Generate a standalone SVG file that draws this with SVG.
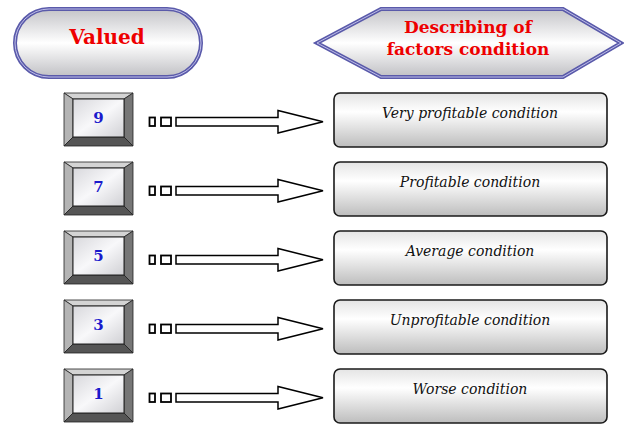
<svg xmlns="http://www.w3.org/2000/svg" width="624" height="425" viewBox="0 0 624 425">
<defs>
<linearGradient id="gPill" x1="0" y1="0" x2="0" y2="1">
<stop offset="0" stop-color="#c4c4c8"/><stop offset="0.5" stop-color="#ffffff"/><stop offset="1" stop-color="#c0c0c4"/>
</linearGradient>
<linearGradient id="gCond" x1="0" y1="0" x2="0" y2="1">
<stop offset="0" stop-color="#e4e4e4"/><stop offset="0.35" stop-color="#ffffff"/><stop offset="1" stop-color="#bdbdbd"/>
</linearGradient>
<linearGradient id="gFace" x1="0" y1="0" x2="1" y2="1">
<stop offset="0" stop-color="#d8d8dc"/><stop offset="0.5" stop-color="#f8f8fa"/><stop offset="1" stop-color="#d0d0d4"/>
</linearGradient>
<style>
.hdr{font-family:'DejaVu Serif',serif;font-weight:bold;fill:#ee0000;text-anchor:middle}
.num{font-family:'DejaVu Serif',serif;font-weight:bold;font-size:15px;fill:#1a1acc;text-anchor:middle}
.cond{font-family:'DejaVu Serif',serif;font-style:italic;font-size:14px;fill:#111;text-anchor:middle}
.condbox{fill:url(#gCond);stroke:#1a1a1a;stroke-width:1.6}
.face{fill:url(#gFace);stroke:#222;stroke-width:1}
.bt{fill:#d4d4d4;stroke:#222;stroke-width:0.8}
.bl{fill:#b4b4b4;stroke:#222;stroke-width:0.8}
.br{fill:#767676;stroke:#222;stroke-width:0.8}
.bb{fill:#555;stroke:#222;stroke-width:0.8}
.arr{fill:#fff;stroke:#000;stroke-width:1.5;stroke-linejoin:miter}
.dash{fill:#fff;stroke:#000;stroke-width:1.8}
.outer{fill:url(#gPill);stroke:#5a5aaa;stroke-width:4}
.inner{fill:none;stroke:#c8c8ee;stroke-width:0.9}
</style>
<g id="bev">
<polygon class="bt" points="64,93 133,93 124,99 73,99"/>
<polygon class="bl" points="64,93 73,99 73,137 64,146"/>
<polygon class="br" points="133,93 133,146 124,137 124,99"/>
<polygon class="bb" points="64,146 133,146 124,137 73,137"/>
<rect class="face" x="73" y="99" width="51" height="38"/>
</g>
</defs>

<g id="valued">
<rect class="outer" x="15" y="9" width="186" height="68" rx="34"/>
<rect class="inner" x="15" y="9" width="186" height="68" rx="34"/>
<text class="hdr" x="107" y="44" font-size="20">Valued</text>
</g>

<g id="describing">
<polygon class="outer" points="317,43 381,9 563,9 621,43 563,77 381,77"/>
<polygon class="inner" points="317,43 381,9 563,9 621,43 563,77 381,77"/>
<text class="hdr" x="468" y="33" font-size="17">Describing of</text>
<text class="hdr" x="468" y="55" font-size="17">factors condition</text>
</g>

<g id="v9"><use href="#bev"/><text class="num" x="98.5" y="123">9</text></g>
<g id="v7" transform="translate(0,69)"><use href="#bev"/><text class="num" x="98.5" y="123">7</text></g>
<g id="v5" transform="translate(0,138)"><use href="#bev"/><text class="num" x="98.5" y="123">5</text></g>
<g id="v3" transform="translate(0,207)"><use href="#bev"/><text class="num" x="98.5" y="123">3</text></g>
<g id="v1" transform="translate(0,276)"><use href="#bev"/><text class="num" x="98.5" y="123">1</text></g>

<g id="c9"><rect class="condbox" x="334" y="93" width="273" height="54" rx="6"/><text class="cond" x="470" y="118">Very profitable condition</text></g>
<g id="c7" transform="translate(0,69)"><rect class="condbox" x="334" y="93" width="273" height="54" rx="6"/><text class="cond" x="470" y="118">Profitable condition</text></g>
<g id="c5" transform="translate(0,138)"><rect class="condbox" x="334" y="93" width="273" height="54" rx="6"/><text class="cond" x="470" y="118">Average condition</text></g>
<g id="c3" transform="translate(0,207)"><rect class="condbox" x="334" y="93" width="273" height="54" rx="6"/><text class="cond" x="470" y="118">Unprofitable condition</text></g>
<g id="c1" transform="translate(0,276)"><rect class="condbox" x="334" y="93" width="273" height="54" rx="6"/><text class="cond" x="470" y="118">Worse condition</text></g>

<g id="connectors">
<g id="a9">
<rect class="dash" x="149.5" y="117.5" width="5.5" height="8.5"/>
<rect class="dash" x="161" y="117.5" width="10" height="8.5"/>
<polygon class="arr" points="176,117.5 278,117.5 278,110.5 323,121.8 278,133 278,126 176,126"/>
</g>
<g id="a7" transform="translate(0,69)">
<rect class="dash" x="149.5" y="117.5" width="5.5" height="8.5"/>
<rect class="dash" x="161" y="117.5" width="10" height="8.5"/>
<polygon class="arr" points="176,117.5 278,117.5 278,110.5 323,121.8 278,133 278,126 176,126"/>
</g>
<g id="a5" transform="translate(0,138)">
<rect class="dash" x="149.5" y="117.5" width="5.5" height="8.5"/>
<rect class="dash" x="161" y="117.5" width="10" height="8.5"/>
<polygon class="arr" points="176,117.5 278,117.5 278,110.5 323,121.8 278,133 278,126 176,126"/>
</g>
<g id="a3" transform="translate(0,207)">
<rect class="dash" x="149.5" y="117.5" width="5.5" height="8.5"/>
<rect class="dash" x="161" y="117.5" width="10" height="8.5"/>
<polygon class="arr" points="176,117.5 278,117.5 278,110.5 323,121.8 278,133 278,126 176,126"/>
</g>
<g id="a1" transform="translate(0,276)">
<rect class="dash" x="149.5" y="117.5" width="5.5" height="8.5"/>
<rect class="dash" x="161" y="117.5" width="10" height="8.5"/>
<polygon class="arr" points="176,117.5 278,117.5 278,110.5 323,121.8 278,133 278,126 176,126"/>
</g>
</g>
</svg>
